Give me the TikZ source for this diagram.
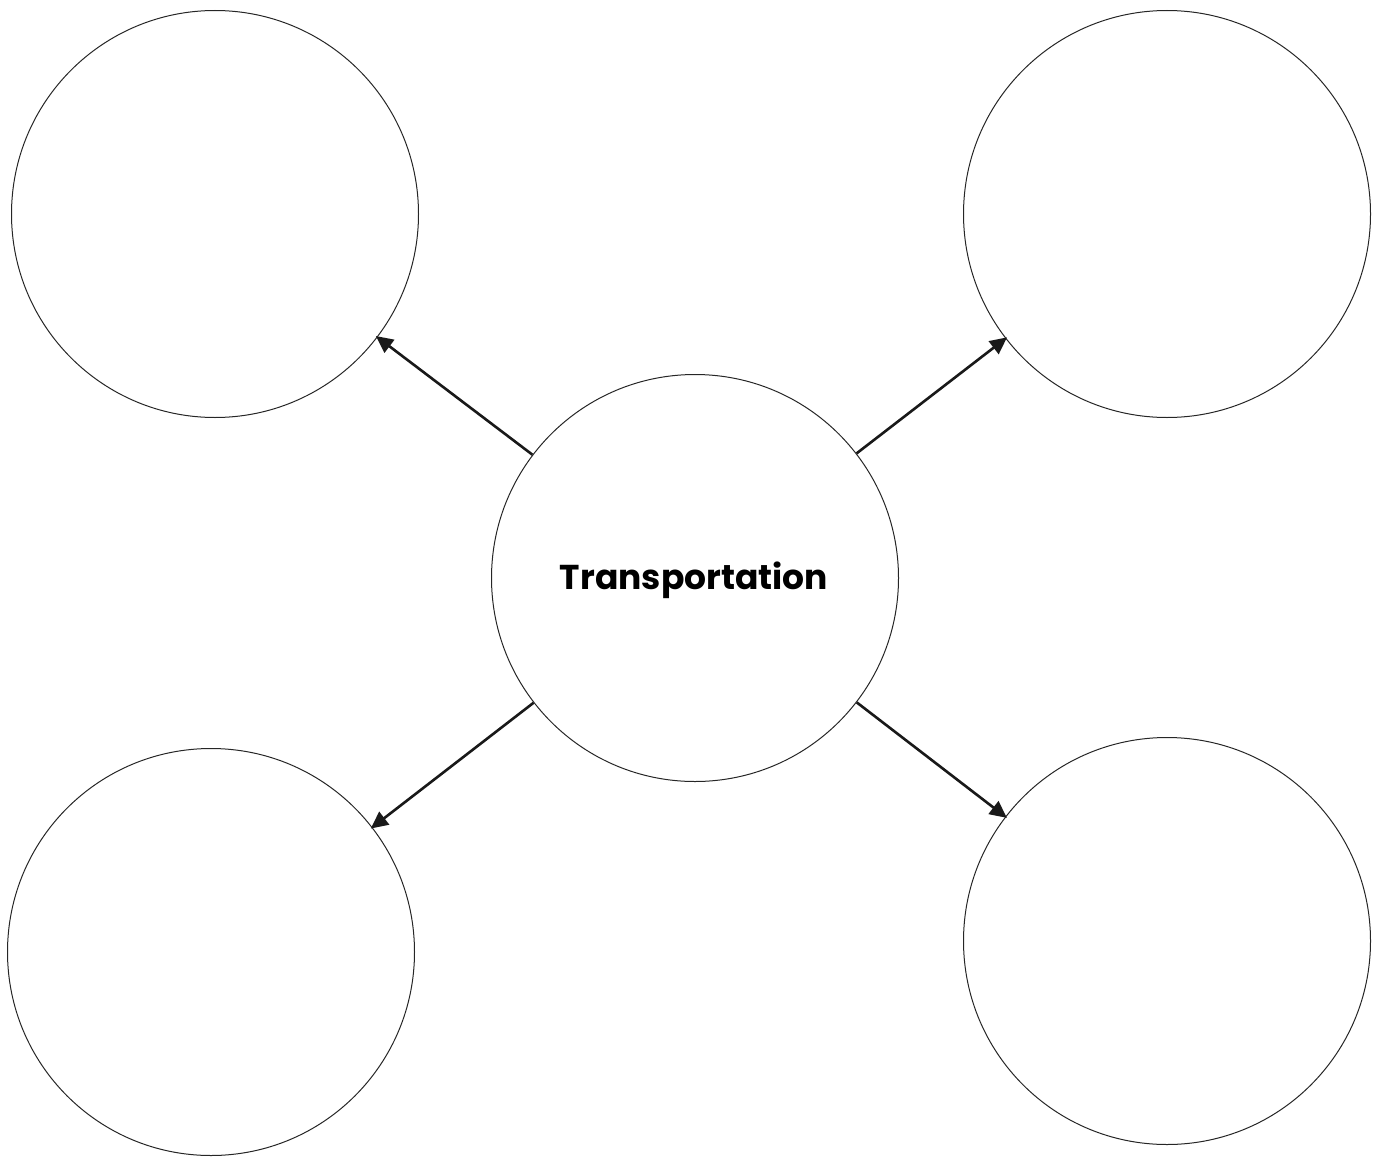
\documentclass[tikz,border=0pt]{standalone}
\usepackage{fontspec}
\newfontfamily\popfont{Poppins}
\usetikzlibrary{arrows.meta}
\begin{document}
\begin{tikzpicture}[x=1pt,y=-1pt,
  bubble/.style={draw=black!85, line width=1pt, circle, minimum size=407pt, inner sep=0pt},
  link/.style={line width=2.6pt, draw=black!90, -{Triangle[length=17pt,width=16pt]}, shorten <=0pt, shorten >=-2pt}]
\useasboundingbox (0,0) rectangle (1378,1156);
\node[bubble] (c) at (695,578) {};
\node[bubble] (tl) at (215,214) {};
\node[bubble] (tr) at (1167,214) {};
\node[bubble] (bl) at (211,952) {};
\node[bubble] (br) at (1167,941) {};
\node (lbl) at (694,580) {\resizebox{268pt}{!}{\popfont\bfseries Transportation}};
\draw[link] (c) -- (tl);
\draw[link] (c) -- (tr);
\draw[link] (c) -- (bl);
\draw[link] (c) -- (br);
\end{tikzpicture}
\end{document}
